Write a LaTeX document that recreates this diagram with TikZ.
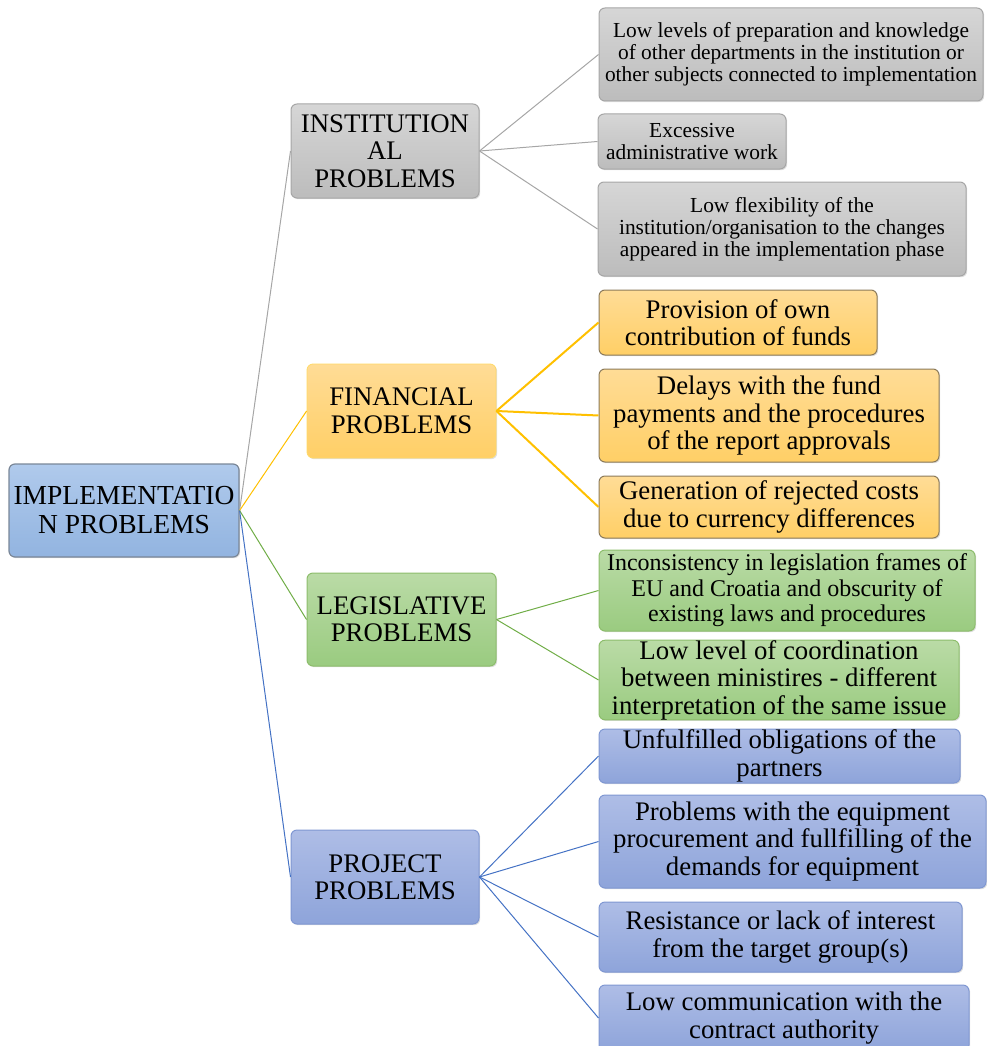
\documentclass[tikz,border=0pt]{standalone}
\usepackage{fontspec}
\setmainfont{Liberation Serif}
\usetikzlibrary{shadows}
\definecolor{grayT}{HTML}{D6D6D6}
\definecolor{grayB}{HTML}{BCBCBC}
\definecolor{grayD}{HTML}{A6A6A6}
\definecolor{rootT}{HTML}{B0CAEC}
\definecolor{rootB}{HTML}{92B4E0}
\definecolor{rootD}{HTML}{7A8798}
\definecolor{goldT}{HTML}{FFDC96}
\definecolor{goldB}{HTML}{FFCF66}
\definecolor{goldD}{HTML}{FFC000}
\definecolor{goldE}{HTML}{8C7B5A}
\definecolor{grnT}{HTML}{BADBA6}
\definecolor{grnB}{HTML}{9ACB80}
\definecolor{grnD}{HTML}{70AD47}
\definecolor{bluT}{HTML}{AEBDE6}
\definecolor{bluB}{HTML}{8EA4DA}
\definecolor{bluD}{HTML}{4472C4}
\definecolor{bluE}{HTML}{7F97D2}
\tikzset{
  box/.style={rectangle, rounded corners=6pt, inner sep=0pt, align=center,
    drop shadow={opacity=0.25, shadow xshift=1.2pt, shadow yshift=-1.2pt}},
  rootf/.style={font=\fontsize{27.5}{29}\selectfont},
  big/.style={font=\fontsize{26.8}{27.5}\selectfont},
  med/.style={font=\fontsize{24}{25.5}\selectfont},
  small/.style={font=\fontsize{21.4}{21.8}\selectfont},
  graybox/.style={box, top color=grayT, bottom color=grayB, draw=grayD, line width=1pt},
  rootbox/.style={box, top color=rootT, bottom color=rootB, draw=rootD, line width=1.2pt},
  goldpar/.style={box, top color=goldT, bottom color=goldB, draw=goldD!60, line width=0.8pt},
  goldbox/.style={box, top color=goldT, bottom color=goldB, draw=goldE, line width=1pt},
  grnbox/.style={box, top color=grnT, bottom color=grnB, draw=grnD!80, line width=1pt},
  blubox/.style={box, top color=bluT, bottom color=bluB, draw=bluE, line width=1pt},
  grayline/.style={draw=grayD, line width=1pt},
  goldline/.style={draw=goldD, line width=1pt},
  goldthick/.style={draw=goldD, line width=2pt},
  grnline/.style={draw=grnD, line width=1pt},
  bluline/.style={draw=bluD, line width=1pt},
}
\begin{document}
\begin{tikzpicture}[x=1pt,y=-1pt]
\useasboundingbox (0,0) rectangle (986,1046);
% root
\node[rootbox, rootf, minimum width=230pt, minimum height=93pt] (root) at (124,510.5) {IMPLEMENTATIO\\N PROBLEMS};
% parents
\node[graybox, big, minimum width=188pt, minimum height=94pt] (inst) at (385,151) {INSTITUTION\\AL\\PROBLEMS};
\node[goldpar, big, minimum width=189pt, minimum height=94pt] (fin) at (401.5,411) {FINANCIAL\\PROBLEMS};
\node[grnbox, big, minimum width=189pt, minimum height=93pt] (leg) at (401.5,619.5) {LEGISLATIVE\\PROBLEMS};
\node[blubox, big, minimum width=188pt, minimum height=94pt] (proj) at (385,877) {PROJECT\\PROBLEMS};
% institutional children
\node[graybox, small, minimum width=384pt, minimum height=93pt] (i1) at (791,54.5) {Low levels of preparation and knowledge\\of other departments in the institution or\\other subjects connected to implementation};
\node[graybox, small, minimum width=188pt, minimum height=55pt] (i2) at (692,141.5) {Excessive\\administrative work};
\node[graybox, small, minimum width=368pt, minimum height=94pt] (i3) at (782,229) {Low flexibility of the\\institution/organisation to the changes\\appeared in the implementation phase};
% financial children
\node[goldbox, big, minimum width=278pt, minimum height=65pt] (f1) at (738,322.5) {Provision of own\\contribution of funds};
\node[goldbox, big, minimum width=340pt, minimum height=93pt] (f2) at (769,415.5) {Delays with the fund\\payments and the procedures\\of the report approvals};
\node[goldbox, big, minimum width=340pt, minimum height=62pt] (f3) at (769,507) {Generation of rejected costs\\due to currency differences};
% legislative children
\node[grnbox, med, minimum width=376pt, minimum height=81pt] (l1) at (787,590.5) {Inconsistency in legislation frames of\\EU and Croatia and obscurity of\\existing laws and procedures};
\node[grnbox, big, minimum width=360pt, minimum height=74pt] (l2) at (779,680) {Low level of coordination\\between ministires - different\\interpretation of the same issue};
% project children
\node[blubox, big, minimum width=361pt, minimum height=54pt] (p1) at (779.5,756) {Unfulfilled obligations of the\\partners};
\node[blubox, big, minimum width=387pt, minimum height=93pt] (p2) at (792.5,841.5) {Problems with the equipment\\procurement and fullfilling of the\\demands for equipment};
\node[blubox, big, minimum width=363pt, minimum height=70pt] (p3) at (780.5,937) {Resistance or lack of interest\\from the target group(s)};
\node[blubox, big, minimum width=370pt, minimum height=66pt] (p4) at (784,1018) {Low communication with the\\contract authority};
% connectors
\draw[grayline] (root.east) -- (inst.west);
\draw[goldline] (root.east) -- (fin.west);
\draw[grnline] (root.east) -- (leg.west);
\draw[bluline] (root.east) -- (proj.west);
\draw[grayline] (inst.east) -- (i1.west);
\draw[grayline] (inst.east) -- (i2.west);
\draw[grayline] (inst.east) -- (i3.west);
\draw[goldthick] (fin.east) -- (f1.west);
\draw[goldthick] (fin.east) -- (f2.west);
\draw[goldthick] (fin.east) -- (f3.west);
\draw[grnline] (leg.east) -- (l1.west);
\draw[grnline] (leg.east) -- (l2.west);
\draw[bluline] (proj.east) -- (p1.west);
\draw[bluline] (proj.east) -- (p2.west);
\draw[bluline] (proj.east) -- (p3.west);
\draw[bluline] (proj.east) -- (p4.west);
\end{tikzpicture}
\end{document}
